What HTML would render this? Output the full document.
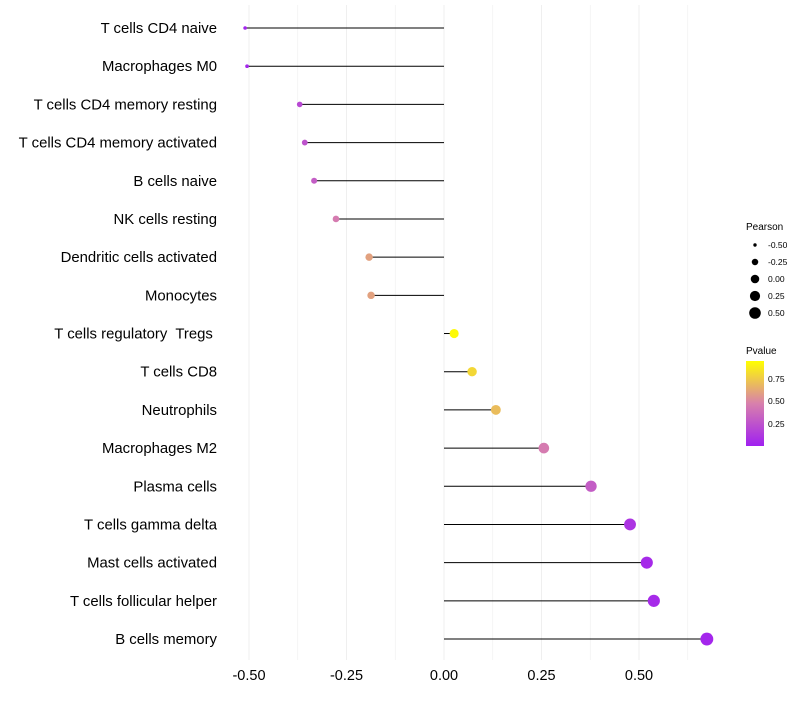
<!DOCTYPE html>
<html><head><meta charset="utf-8"><style>
body{margin:0;background:#fff;font-family:"Liberation Sans",sans-serif}
svg text{font-family:"Liberation Sans",sans-serif;white-space:pre}
</style></head><body>
<svg id="chart" width="800" height="700" xmlns="http://www.w3.org/2000/svg">
<defs><linearGradient id="pg" x1="0" y1="1" x2="0" y2="0">
<stop offset="0" stop-color="#a020f0"/><stop offset="0.5" stop-color="#d880ac"/><stop offset="1" stop-color="#ffff00"/></linearGradient></defs>
<g id="grid"></g>
<g id="marks"></g>
<g id="ylabels"></g>
<g id="xlabels"></g>
<g id="legS">
<text x="746" y="230" font-size="10">Pearson</text>
</g>
<g>
<text x="746" y="354" font-size="10">Pvalue</text>
<rect x="746" y="361" width="18" height="85" fill="url(#pg)"/>
<text x="768" y="382" font-size="8.5">0.75</text>
<text x="768" y="404" font-size="8.5">0.50</text>
<text x="768" y="427" font-size="8.5">0.25</text>
</g>
</svg>
<script>
const categories=["T cells CD4 naive","Macrophages M0","T cells CD4 memory resting","T cells CD4 memory activated","B cells naive","NK cells resting","Dendritic cells activated","Monocytes","T cells regulatory  Tregs ","T cells CD8","Neutrophils","Macrophages M2","Plasma cells","T cells gamma delta","Mast cells activated","T cells follicular helper","B cells memory"];
const pearson=[-0.51,-0.505,-0.37,-0.357,-0.333,-0.277,-0.192,-0.187,0.026,0.072,0.133,0.256,0.377,0.477,0.52,0.538,0.674];
const pvalue=[0.02,0.03,0.2,0.25,0.3,0.45,0.6,0.6,0.93,0.8,0.7,0.45,0.3,0.1,0.05,0.05,0.03];
const xTicks=[-0.5,-0.25,0,0.25,0.5];
const xTickLabels=["-0.50","-0.25","0.00","0.25","0.50"];
const sizeBreaks=[-0.5,-0.25,0,0.25,0.5];
const NS="http://www.w3.org/2000/svg";
const X=v=>444+390*v;
const Y=i=>28+i*38.19;
const R=v=>Math.sqrt(Math.max(1,18.2+30.7*v));
function hex(c){return [1,3,5].map(i=>parseInt(c.substr(i,2),16));}
const stops=[[0,hex("#a020f0")],[0.5,hex("#d880ac")],[1,hex("#ffff00")]];
function col(p){const t=Math.max(0,Math.min(1,(p-0.0)/0.95));let a=stops[0],b=stops[1];if(t>0.5){a=stops[1];b=stops[2];}
const u=(t-a[0])/(b[0]-a[0]);const c=a[1].map((x,k)=>Math.round(x+(b[1][k]-x)*u));return `rgb(${c})`;}
function mk(tag,at,parent){const e=document.createElementNS(NS,tag);for(const k in at)e.setAttribute(k,at[k]);parent.appendChild(e);return e;}
const grid=document.getElementById('grid'),marks=document.getElementById('marks'),yl=document.getElementById('ylabels'),xl=document.getElementById('xlabels');
for(let v=-0.5;v<=0.626;v+=0.125){const l=mk('line',{x1:X(v),x2:X(v),y1:5,y2:660,stroke:'#efefef','stroke-width':Math.abs(v*4-Math.round(v*4))<1e-6?1:0.6},grid);

}
categories.forEach((c,i)=>{
const t=mk('text',{x:217,y:Y(i)+5,'font-size':14.9,'text-anchor':'end',fill:'#000'},yl);t.textContent=c;


const s=mk('line',{x1:X(0),x2:X(pearson[i]),y1:Y(i),y2:Y(i),stroke:'#000','stroke-width':1},marks);


const d=mk('circle',{cx:X(pearson[i]),cy:Y(i),r:R(pearson[i])+0.2,fill:col(pvalue[i])},marks);


});
xTicks.forEach((v,i)=>{const t=mk('text',{x:X(v),y:680,'font-size':14.5,'text-anchor':'middle',fill:'#000'},xl);t.textContent=xTickLabels[i];

});
const legS=document.getElementById('legS');
sizeBreaks.forEach((v,i)=>{const y=245+i*17;
const c=mk('circle',{cx:755,cy:y,r:R(v),fill:'#000'},legS);


const t=mk('text',{x:768,y:y+3,'font-size':8.5},legS);t.textContent=xTickLabels[i];

});
</script>
</body></html>
